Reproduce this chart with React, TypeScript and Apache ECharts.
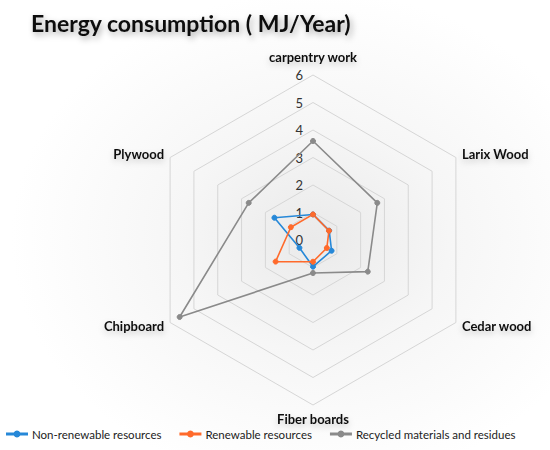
import React, { useEffect, useRef } from 'react';
import * as echarts from 'echarts';

// Categories in clockwise order starting from the top
const categories = ['carpentry work', 'Larix Wood', 'Cedar wood', 'Fiber boards', 'Chipboard', 'Plywood'];
const nonRenewable = [0.93, 0.68, 0.78, 0.97, 0.57, 1.62];
const renewable = [0.93, 0.67, 0.58, 0.79, 1.57, 0.93];
const recycled = [3.6, 2.7, 2.3, 1.2, 5.6, 2.7];
const seriesNames = ['Non-renewable resources', 'Renewable resources', 'Recycled materials and residues'];
const axisMax = 6;
const titleText = 'Energy consumption ( MJ/Year)';

const colors = ['#2688d8', '#ff6a2b', '#8a8a8a'];
const FONT = 'Lato, "Open Sans", sans-serif';

// ECharts places radar indicators counter-clockwise, so reorder
const order = [0, 5, 4, 3, 2, 1];
const reorder = (arr: any[]) => order.map((i) => arr[i]);

const legendIcon = 'path://M0,2.4H20V3.6H0Z M10,0.5A2.5,2.5 0 1 1 9.999,0.5Z';

const nameStyle = {
  fontFamily: FONT,
  fontWeight: 'bold' as const,
  fontSize: 13,
  color: '#111',
  textShadowColor: 'rgba(0,0,0,0.2)',
  textShadowBlur: 6,
  textShadowOffsetY: 3,
};

export default function App() {
  const ref = useRef<HTMLDivElement>(null);
  useEffect(() => {
    document.body.style.margin = '0';
    if (!ref.current) return;
    const chart = echarts.init(ref.current, null, { renderer: 'svg' });
    const seriesData = [nonRenewable, renewable, recycled];
    chart.setOption({
      animation: false,
      backgroundColor: new echarts.graphic.RadialGradient(0.57, 0.53, 0.55, [
        { offset: 0, color: '#eaeaea' },
        { offset: 0.45, color: '#f6f6f6' },
        { offset: 1, color: '#ffffff' },
      ]),
      title: {
        text: titleText,
        left: 26,
        top: 6,
        textStyle: {
          fontFamily: FONT,
          fontWeight: 'bold',
          fontSize: 23,
          color: '#111',
          textShadowColor: 'rgba(0,0,0,0.35)',
          textShadowBlur: 6,
          textShadowOffsetX: 2,
          textShadowOffsetY: 3,
        },
      },
      legend: {
        bottom: 5,
        left: 1,
        itemWidth: 20,
        itemHeight: 6,
        itemGap: 18,
        icon: legendIcon,
        textStyle: { fontFamily: FONT, fontSize: 11.5, color: '#222' },
        data: seriesNames.map((n, i) => ({ name: n, itemStyle: { color: colors[i] } })),
      },
      radar: {
        center: [313, 240],
        radius: 165,
        splitNumber: 6,
        shape: 'polygon',
        startAngle: 90,
        axisName: {
          ...nameStyle,
          formatter: (name: string) => (name === categories[0] ? `{top|${name}}` : name),
          rich: {
            top: { ...nameStyle, padding: [0, 0, 5, 0] },
          },
        },
        nameGap: 7,
        splitLine: { lineStyle: { color: '#d6d6d6', width: 1 } },
        splitArea: { show: false },
        axisLine: { show: false },
        axisTick: { show: false },
        axisLabel: { show: false },
        indicator: reorder(categories).map((c, i) => ({
          name: c,
          min: 0,
          max: axisMax,
          axisLabel:
            i === 0
              ? { show: true, fontFamily: FONT, fontSize: 13, color: '#333', margin: 10 }
              : { show: false },
        })),
      },
      series: [
        {
          type: 'radar',
          symbol: 'circle',
          symbolSize: 5,
          data: seriesData.map((d, i) => ({
            name: seriesNames[i],
            value: reorder(d),
            lineStyle: { color: colors[i], width: 1.6 },
            itemStyle: { color: colors[i], borderColor: colors[i], borderWidth: 1 },
          })),
        },
      ],
    });
    return () => chart.dispose();
  }, []);
  return <div ref={ref} style={{ width: 550, height: 450 }} />;
}
